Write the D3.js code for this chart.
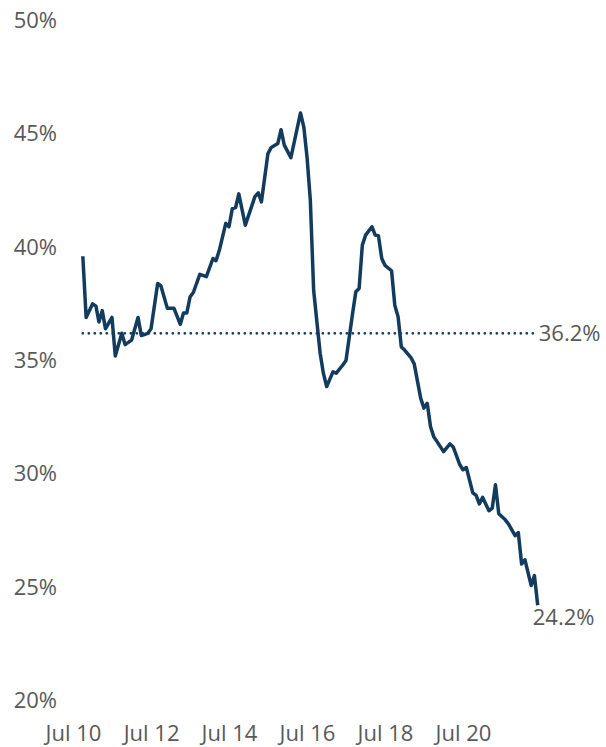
<!DOCTYPE html>
<html>
<head>
<meta charset="utf-8">
<script src="https://cdnjs.cloudflare.com/ajax/libs/d3/7.8.5/d3.min.js"></script>
<style>
  body { margin: 0; background: #fff; }
  svg text { font-family: "Open Sans", sans-serif; fill: #595959; }
</style>
</head>
<body>
<script>
// monthly readings (year-month) and share in %
var months = [
  "2010-10","2010-11","2011-01","2011-02","2011-03","2011-04","2011-05","2011-07","2011-08","2011-10",
  "2011-11","2012-01","2012-03","2012-04","2012-06","2012-07","2012-09","2012-10","2012-12","2013-02",
  "2013-04","2013-05","2013-06","2013-07","2013-08","2013-10","2013-12","2014-02","2014-03","2014-04",
  "2014-06","2014-07","2014-08","2014-09","2014-10","2014-12","2015-03","2015-04","2015-05","2015-07",
  "2015-08","2015-10","2015-11","2015-12","2016-02","2016-05","2016-06","2016-07","2016-08","2016-09",
  "2016-11","2016-12","2017-01","2017-03","2017-04","2017-06","2017-07","2017-09","2017-10","2017-11",
  "2017-12","2018-01","2018-03","2018-04","2018-05","2018-06","2018-07","2018-09","2018-10","2018-11",
  "2018-12","2019-01","2019-03","2019-04","2019-06","2019-07","2019-08","2019-09","2019-10","2019-11",
  "2020-01","2020-03","2020-04","2020-06","2020-07","2020-08","2020-10","2020-11","2020-12","2021-01",
  "2021-03","2021-04","2021-05","2021-06","2021-08","2021-09","2021-11","2021-12","2022-01","2022-02",
  "2022-04","2022-05","2022-06"
];
var shares = [
  39.6, 36.9, 37.5, 37.4, 36.7, 37.2, 36.4, 36.9, 35.2, 36.2,
  35.7, 35.9, 36.9, 36.1, 36.2, 36.4, 38.4, 38.3, 37.3, 37.3,
  36.6, 37.1, 37.1, 37.8, 38.0, 38.8, 38.7, 39.5, 39.4, 39.85,
  41.05, 40.9, 41.7, 41.75, 42.35, 40.97, 42.23, 42.4, 42.0, 44.13,
  44.4, 44.57, 45.18, 44.5, 43.95, 45.92, 45.3, 43.98, 42.07, 38.1,
  35.32, 34.44, 33.85, 34.5, 34.44, 34.8, 35.0, 37.08, 38.03, 38.18,
  40.09, 40.53, 40.9, 40.53, 40.5, 39.5, 39.2, 38.96, 37.44, 36.93,
  35.6, 35.46, 35.13, 34.85, 33.33, 32.9, 33.11, 32.08, 31.64, 31.42,
  30.98, 31.32, 31.18, 30.4, 30.18, 30.28, 29.16, 29.05, 28.67, 28.96,
  28.37, 28.49, 29.52, 28.24, 27.97, 27.78, 27.27, 27.41, 26.02, 26.21,
  25.07, 25.51, 24.2
];
var avgShare = 36.2;
var yTicks = [20, 25, 30, 35, 40, 45, 50];
var xTicks = ["2010-07","2012-07","2014-07","2016-07","2018-07","2020-07"];

var width = 606, height = 747;
var parse = d3.timeParse("%Y-%m");
var fmtTick = d3.timeFormat("%b %y");

var data = months.map(function(m, i) { return {date: parse(m), value: shares[i]}; });

var svg = d3.select("body")
  .append("svg")
  .attr("width", width)
  .attr("height", height);

var x = d3.scaleTime()
  .domain([parse("2010-07"), parse("2020-07")])
  .range([73, 463]);

var y = d3.scaleLinear()
  .domain([20, 50])
  .range([700.5, 20.5]);

// y axis labels
svg.append("g")
  .attr("transform", "translate(57,0)")
  .call(d3.axisLeft(y)
    .tickValues(yTicks)
    .tickSize(0)
    .tickPadding(0)
    .tickFormat(function(d) { return d + "%"; }))
  .call(function(g) { g.select(".domain").remove(); })
  .selectAll("text")
    .style("font-size", "22px")
    .attr("fill", "#595959");

// x axis labels
svg.append("g")
  .attr("transform", "translate(0,725)")
  .call(d3.axisBottom(x)
    .tickValues(xTicks.map(parse))
    .tickSize(0)
    .tickPadding(0)
    .tickFormat(fmtTick))
  .call(function(g) { g.select(".domain").remove(); })
  .selectAll("text")
    .style("font-size", "22px")
    .attr("fill", "#595959");

var first = data[0], last = data[data.length - 1];

// average dotted line
svg.append("line")
  .attr("x1", x(first.date))
  .attr("x2", x(last.date) - 3)
  .attr("y1", y(avgShare))
  .attr("y2", y(avgShare))
  .attr("stroke", "#123b5e")
  .attr("stroke-width", 2.8)
  .attr("stroke-linecap", "round")
  .attr("stroke-dasharray", "0,6");

svg.append("text")
  .attr("x", x(last.date) + 1)
  .attr("y", y(avgShare))
  .attr("dy", "0.36em")
  .style("font-size", "22px")
  .text(avgShare.toFixed(1) + "%");

// main line
var line = d3.line()
  .x(function(d) { return x(d.date); })
  .y(function(d) { return y(d.value); });

svg.append("path")
  .datum(data)
  .attr("d", line)
  .attr("fill", "none")
  .attr("stroke", "#123b5e")
  .attr("stroke-width", 3.5)
  .attr("stroke-linejoin", "round");

// last value label
svg.append("text")
  .attr("x", x(last.date) - 5)
  .attr("y", y(last.value) + 12)
  .attr("dy", "0.36em")
  .style("font-size", "22px")
  .text(last.value.toFixed(1) + "%");
</script>
</body>
</html>
